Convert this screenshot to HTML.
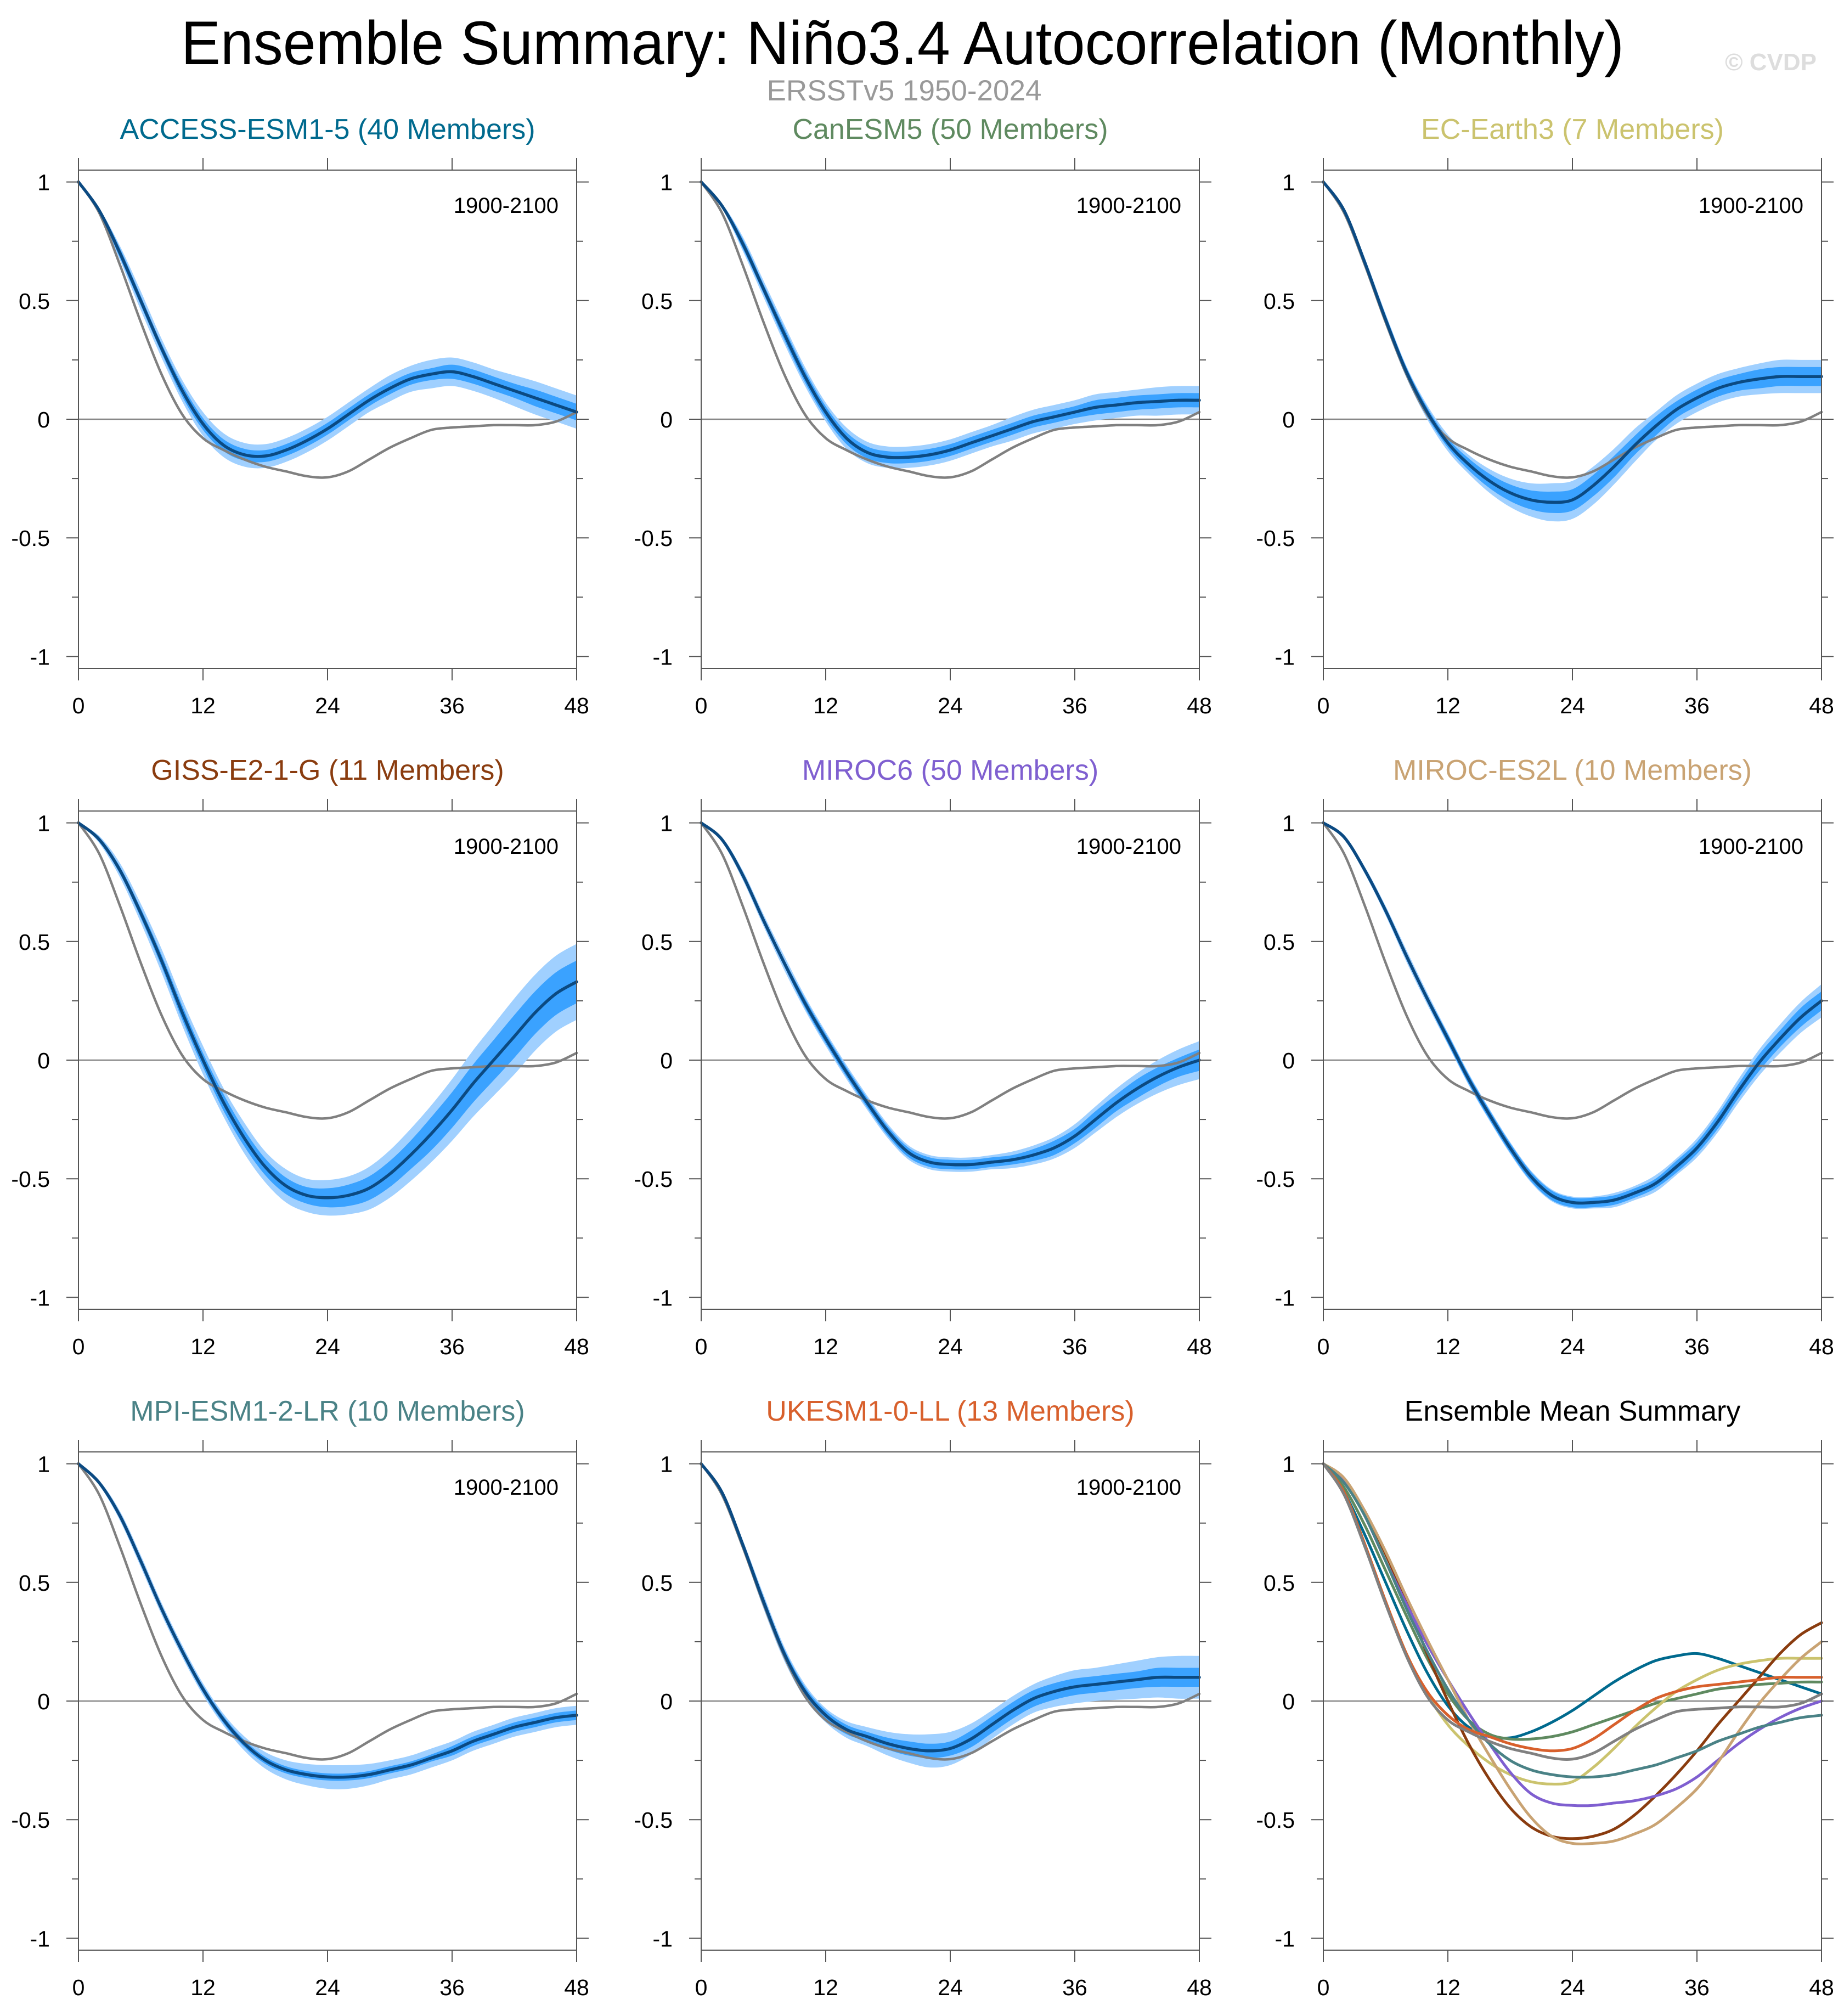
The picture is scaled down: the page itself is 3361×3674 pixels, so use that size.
<!DOCTYPE html>
<html><head><meta charset="utf-8">
<style>
html,body{margin:0;padding:0;background:#fff;}
svg{display:block;font-family:"Liberation Sans",Arial,sans-serif;}
</style></head>
<body>
<svg id="fig" width="3361" height="3674" viewBox="0 0 3361 3674" xmlns="http://www.w3.org/2000/svg">
<text x="1645" y="117" font-size="112" text-anchor="middle" textLength="2630" lengthAdjust="spacingAndGlyphs" fill="#000">Ensemble Summary: Niño3.4 Autocorrelation (Monthly)</text>
<text x="1648" y="183" font-size="53" text-anchor="middle" fill="#999">ERSSTv5 1950-2024</text>
<text x="3311" y="128" font-size="44" font-weight="bold" text-anchor="end" fill="#dddddd">© CVDP</text>
<g id="panels"></g>
</svg>
<script>
// lags every 2 months, 0..48
const lags = [0,2,4,6,8,10,12,14,16,18,20,22,24,26,28,30,32,34,36,38,40,42,44,46,48];
const obs = [1,0.87,0.65,0.41,0.19,0.02,-0.08,-0.13,-0.17,-0.20,-0.22,-0.24,-0.245,-0.22,-0.17,-0.12,-0.08,-0.045,-0.035,-0.03,-0.025,-0.025,-0.025,-0.01,0.03];
const modelNames = ["ACCESS-ESM1-5","CanESM5","EC-Earth3","GISS-E2-1-G","MIROC6","MIROC-ES2L","MPI-ESM1-2-LR","UKESM1-0-LL"];
const memberCounts = [40,50,7,11,50,10,10,13];
const modelColors = ["#006a8e","#5f8a60","#cbc36e","#8a3c0f","#7f5fd0","#c9a373","#4a8286","#d8602c"];
const meanAccess = [1,0.88,0.70,0.50,0.30,0.12,-0.02,-0.11,-0.15,-0.155,-0.13,-0.09,-0.04,0.02,0.08,0.13,0.17,0.19,0.20,0.18,0.15,0.12,0.09,0.06,0.03];
const meanCan = [1,0.90,0.74,0.55,0.36,0.18,0.03,-0.08,-0.14,-0.16,-0.16,-0.15,-0.13,-0.10,-0.07,-0.04,-0.01,0.01,0.03,0.05,0.06,0.07,0.075,0.08,0.08];
const meanEC = [1,0.88,0.66,0.42,0.20,0.03,-0.10,-0.19,-0.26,-0.31,-0.34,-0.35,-0.34,-0.28,-0.20,-0.11,-0.03,0.04,0.09,0.13,0.155,0.17,0.18,0.18,0.18];
const meanGISS = [1,0.93,0.80,0.62,0.42,0.20,0.00,-0.18,-0.33,-0.45,-0.53,-0.57,-0.58,-0.57,-0.54,-0.48,-0.40,-0.31,-0.21,-0.10,0.00,0.10,0.20,0.28,0.33];
const meanMIROC6 = [1,0.93,0.78,0.59,0.41,0.24,0.09,-0.05,-0.18,-0.30,-0.39,-0.43,-0.44,-0.44,-0.43,-0.42,-0.40,-0.37,-0.32,-0.25,-0.18,-0.12,-0.07,-0.03,0.00];
const meanES2L = [1,0.94,0.80,0.63,0.44,0.26,0.09,-0.08,-0.23,-0.37,-0.49,-0.57,-0.60,-0.60,-0.59,-0.56,-0.52,-0.45,-0.37,-0.26,-0.13,-0.01,0.09,0.18,0.25];
const meanMPI = [1,0.92,0.78,0.59,0.39,0.21,0.05,-0.08,-0.18,-0.25,-0.29,-0.31,-0.32,-0.32,-0.31,-0.29,-0.27,-0.24,-0.21,-0.17,-0.14,-0.11,-0.09,-0.07,-0.06];
const meanUK = [1,0.88,0.66,0.42,0.20,0.04,-0.06,-0.12,-0.15,-0.18,-0.20,-0.21,-0.20,-0.16,-0.10,-0.04,0.01,0.04,0.06,0.07,0.08,0.09,0.10,0.10,0.10];
const innerAccess = [0,0.01,0.02,0.02,0.02,0.025,0.025,0.025,0.025,0.025,0.025,0.025,0.025,0.025,0.025,0.025,0.025,0.025,0.03,0.03,0.03,0.03,0.035,0.035,0.035];
const outerAccess = [0,0.01,0.03,0.04,0.04,0.045,0.05,0.05,0.05,0.05,0.05,0.05,0.05,0.05,0.05,0.055,0.055,0.06,0.06,0.06,0.06,0.065,0.07,0.07,0.07];
const innerCan = [0,0.01,0.02,0.02,0.025,0.025,0.025,0.025,0.025,0.025,0.025,0.025,0.025,0.025,0.025,0.025,0.025,0.025,0.025,0.03,0.03,0.03,0.03,0.03,0.03];
const outerCan = [0,0.01,0.03,0.035,0.04,0.04,0.04,0.045,0.045,0.045,0.045,0.045,0.045,0.045,0.045,0.05,0.05,0.05,0.05,0.055,0.055,0.055,0.06,0.06,0.06];
const innerEC = [0,0.01,0.015,0.02,0.02,0.02,0.02,0.025,0.03,0.035,0.04,0.045,0.045,0.045,0.045,0.04,0.04,0.035,0.035,0.035,0.035,0.04,0.04,0.04,0.04];
const outerEC = [0,0.01,0.02,0.025,0.025,0.03,0.035,0.04,0.05,0.06,0.07,0.08,0.08,0.08,0.075,0.07,0.06,0.06,0.06,0.06,0.06,0.065,0.07,0.07,0.07];
const innerGISS = [0,0.01,0.015,0.02,0.025,0.03,0.03,0.035,0.035,0.035,0.035,0.035,0.04,0.045,0.05,0.055,0.06,0.07,0.075,0.08,0.085,0.09,0.09,0.09,0.09];
const outerGISS = [0,0.015,0.03,0.04,0.05,0.055,0.06,0.06,0.065,0.065,0.07,0.07,0.075,0.08,0.09,0.1,0.11,0.12,0.13,0.14,0.15,0.16,0.16,0.16,0.16];
const innerMIROC6 = [0,0.005,0.01,0.015,0.015,0.02,0.02,0.02,0.02,0.02,0.02,0.02,0.02,0.02,0.02,0.02,0.025,0.03,0.03,0.035,0.035,0.04,0.04,0.04,0.045];
const outerMIROC6 = [0,0.01,0.02,0.025,0.03,0.03,0.03,0.03,0.03,0.03,0.03,0.03,0.03,0.03,0.03,0.035,0.04,0.045,0.05,0.055,0.06,0.065,0.07,0.075,0.08];
const innerES2L = [0,0.005,0.01,0.015,0.015,0.015,0.02,0.02,0.02,0.02,0.02,0.02,0.02,0.02,0.02,0.02,0.02,0.025,0.025,0.03,0.03,0.035,0.035,0.04,0.04];
const outerES2L = [0,0.01,0.015,0.02,0.025,0.025,0.025,0.025,0.025,0.025,0.025,0.025,0.025,0.025,0.03,0.03,0.035,0.035,0.04,0.045,0.05,0.055,0.06,0.065,0.07];
const innerMPI = [0,0.005,0.01,0.015,0.015,0.015,0.015,0.015,0.015,0.015,0.015,0.015,0.015,0.015,0.015,0.015,0.015,0.015,0.02,0.02,0.02,0.02,0.02,0.02,0.02];
const outerMPI = [0,0.01,0.02,0.025,0.025,0.025,0.025,0.025,0.03,0.035,0.04,0.045,0.05,0.05,0.045,0.04,0.04,0.04,0.04,0.04,0.04,0.04,0.04,0.04,0.04];
const innerUK = [0,0.01,0.015,0.02,0.02,0.02,0.02,0.02,0.02,0.025,0.03,0.03,0.03,0.035,0.035,0.035,0.035,0.035,0.035,0.035,0.035,0.035,0.04,0.04,0.04];
const outerUK = [0,0.01,0.02,0.03,0.03,0.03,0.03,0.035,0.04,0.05,0.06,0.07,0.07,0.065,0.06,0.06,0.06,0.065,0.07,0.07,0.075,0.08,0.085,0.09,0.09];
const xTicks = [0,12,24,36,48];
const xTickLabels = ["0","12","24","36","48"];
const yTicks = [1,0.5,0,-0.5,-1];
const yTickLabels = ["1","0.5","0","-0.5","-1"];
const yMinor = [0.75,0.25,-0.25,-0.75];

const means = [meanAccess,meanCan,meanEC,meanGISS,meanMIROC6,meanES2L,meanMPI,meanUK];
const inners = [innerAccess,innerCan,innerEC,innerGISS,innerMIROC6,innerES2L,innerMPI,innerUK];
const outers = [outerAccess,outerCan,outerEC,outerGISS,outerMIROC6,outerES2L,outerMPI,outerUK];

const NS = "http://www.w3.org/2000/svg";
const root = document.getElementById('panels');
const colL = [143,1278,2412], rowT = [310,1478,2646], SZ = 908;

function mk(tag, attrs, parent){
  const e = document.createElementNS(NS, tag);
  for (const k in attrs) e.setAttribute(k, attrs[k]);
  parent.appendChild(e); return e;
}
function smoothPath(pts){
  let d = "M" + pts[0][0].toFixed(1) + "," + pts[0][1].toFixed(1);
  for (let i=0;i<pts.length-1;i++){
    const p0 = pts[Math.max(0,i-1)], p1 = pts[i], p2 = pts[i+1], p3 = pts[Math.min(pts.length-1,i+2)];
    const c1x = p1[0]+(p2[0]-p0[0])/6, c1y = p1[1]+(p2[1]-p0[1])/6;
    const c2x = p2[0]-(p3[0]-p1[0])/6, c2y = p2[1]-(p3[1]-p1[1])/6;
    d += " C"+c1x.toFixed(1)+","+c1y.toFixed(1)+" "+c2x.toFixed(1)+","+c2y.toFixed(1)+" "+p2[0].toFixed(1)+","+p2[1].toFixed(1);
  }
  return d;
}

function panel(idx, title, titleColor, drawFn, showPeriod){
  const L = colL[idx%3], T = rowT[Math.floor(idx/3)];
  const xs = v => L + v/48*SZ;
  const ys = v => T + (1.05 - v)/2.1*SZ;
  const g = mk('g', {}, root);
  
  
  const t = mk('text', {x: L+SZ/2, y: T-57, 'font-size': 52, 'text-anchor':'middle', fill: titleColor}, g);
  
  
  t.textContent = title;
  const z = mk('line', {x1:L, x2:L+SZ, y1:ys(0), y2:ys(0), stroke:'#888', 'stroke-width':2.5}, g);
  
  
  drawFn(g, xs, ys);
  const f = mk('rect', {x:L, y:T, width:SZ, height:SZ, fill:'none', stroke:'#555', 'stroke-width':2}, g);
  
  
  const tg = mk('g', {stroke:'#555','stroke-width':2}, g);
  
  
  xTicks.forEach(v => {
    mk('line', {x1:xs(v), x2:xs(v), y1:T+SZ, y2:T+SZ+22}, tg);
    mk('line', {x1:xs(v), x2:xs(v), y1:T, y2:T-22}, tg);
  });
  yTicks.forEach(v => {
    mk('line', {x1:L-22, x2:L, y1:ys(v), y2:ys(v)}, tg);
    mk('line', {x1:L+SZ, x2:L+SZ+22, y1:ys(v), y2:ys(v)}, tg);
  });
  yMinor.forEach(v => {
    mk('line', {x1:L-12, x2:L, y1:ys(v), y2:ys(v)}, tg);
    mk('line', {x1:L+SZ, x2:L+SZ+12, y1:ys(v), y2:ys(v)}, tg);
  });
  const lg = mk('g', {'font-size':41, fill:'#000'}, g);
  
  
  xTicks.forEach((v,i) => {
    const e = mk('text', {x:xs(v), y:T+SZ+82, 'text-anchor':'middle'}, lg);
    
    
    e.textContent = xTickLabels[i];
  });
  yTicks.forEach((v,i) => {
    const e = mk('text', {x:L-52, y:ys(v)+15, 'text-anchor':'end'}, lg);
    
    
    e.textContent = yTickLabels[i];
  });
  if (showPeriod){
    const p = mk('text', {x:L+SZ-33, y:T+78, 'font-size':40, 'text-anchor':'end', fill:'#000'}, g);
    
    
    p.textContent = '1900-2100';
  }
}

function band(g, xs, ys, mean, w, color, name){
  const up = lags.map((l,i)=>[xs(l), ys(mean[i]+w[i])]);
  const lo = lags.map((l,i)=>[xs(l), ys(mean[i]-w[i])]).reverse();
  let d = smoothPath(up) + " L" + lo[0][0] + "," + lo[0][1] + smoothPath(lo).replace(/^M[^C]*/, " ") + " Z";
  const p = mk('path', {d:d, fill:color, stroke:'none'}, g);
  
  
}
function line(g, xs, ys, vals, color, w, name){
  const p = mk('path', {d:smoothPath(lags.map((l,i)=>[xs(l), ys(vals[i])])), fill:'none', stroke:color, 'stroke-width':w, 'stroke-linejoin':'round','stroke-linecap':'round'}, g);
  
  
}

for (let m=0;m<8;m++){
  panel(m, modelNames[m] + " (" + memberCounts[m] + " Members)", modelColors[m], (g,xs,ys)=>{
    band(g, xs, ys, means[m], outers[m], '#a0d0ff', 'outer-spread-band');
    band(g, xs, ys, means[m], inners[m], '#3aa2ff', 'inner-spread-band');
    line(g, xs, ys, obs, '#808080', 4.5, 'observed-line');
    line(g, xs, ys, means[m], '#0b4a82', 5.5, 'ensemble-mean-line');
  }, true);
}
panel(8, "Ensemble Mean Summary", "#000", (g,xs,ys)=>{
  for (let m=0;m<8;m++) line(g, xs, ys, means[m], modelColors[m], 5, 'mean-line-' + modelNames[m].toLowerCase());
  line(g, xs, ys, obs, '#808080', 5, 'observed-line');
}, false);
</script>
</body></html>
